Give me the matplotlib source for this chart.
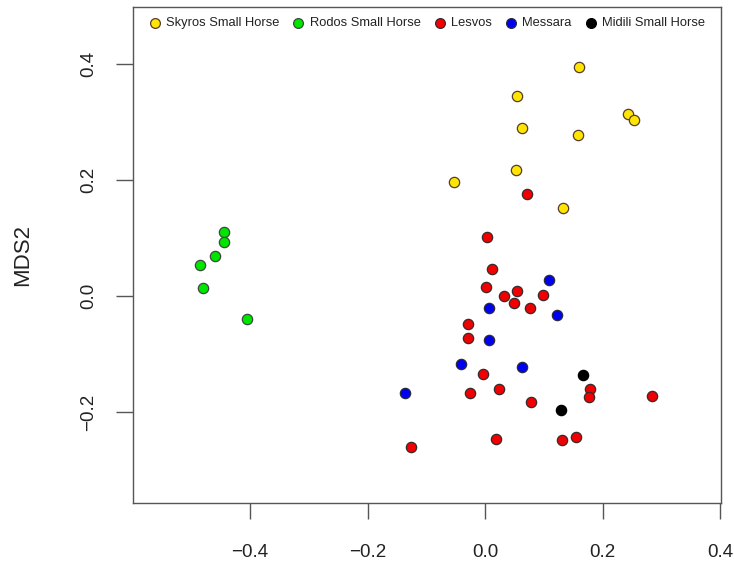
import matplotlib
matplotlib.use('Agg')
import matplotlib.pyplot as plt

plt.rcParams['font.family'] = ['Liberation Sans', 'DejaVu Sans']

groups = ['Skyros Small Horse', 'Rodos Small Horse', 'Lesvos', 'Messara', 'Midili Small Horse']
fills = ['#FFE600', '#00E600', '#F00000', '#0000F0', '#000000']
edges = ['#5a3a2a', '#3a4a3a', '#3a2a2a', '#2a2a3a', '#000000']

skyros_x = [0.160, 0.054, 0.063, 0.242, 0.253, 0.157, 0.053, -0.053, 0.132]
skyros_y = [0.394, 0.345, 0.289, 0.313, 0.303, 0.278, 0.217, 0.197, 0.151]

rodos_x = [-0.444, -0.444, -0.460, -0.485, -0.480, -0.405]
rodos_y = [0.110, 0.093, 0.069, 0.054, 0.014, -0.039]

lesvos_x = [0.071, 0.003, 0.011, 0.001, 0.032, 0.054, 0.049, 0.099, 0.077, -0.029,
            -0.030, -0.004, -0.026, 0.023, 0.078, 0.179, 0.177, 0.283, -0.127, 0.019,
            0.131, 0.155]
lesvos_y = [0.175, 0.101, 0.047, 0.015, 0.000, 0.008, -0.012, 0.001, -0.021, -0.048,
            -0.072, -0.134, -0.167, -0.160, -0.183, -0.161, -0.175, -0.172, -0.260, -0.246,
            -0.249, -0.244]

messara_x = [0.108, 0.007, 0.122, 0.006, -0.041, 0.063, -0.137]
messara_y = [0.027, -0.020, -0.033, -0.076, -0.117, -0.123, -0.168]

midili_x = [0.167, 0.129]
midili_y = [-0.136, -0.197]

xs = [skyros_x, rodos_x, lesvos_x, messara_x, midili_x]
ys = [skyros_y, rodos_y, lesvos_y, messara_y, midili_y]

fig = plt.figure(figsize=(7.34, 5.64), dpi=100)
ax = fig.add_axes([133 / 734, 1 - 503 / 564, (721 - 133) / 734, (503 - 7) / 564])

for name, x, y, fc, ec in zip(groups, xs, ys, fills, edges):
    ax.scatter(x, y, s=55, c=fc, edgecolors=ec, linewidths=0.9, label=name, zorder=3)

ax.set_xlim(-0.599, 0.401)
ax.set_ylim(-0.357, 0.498)
ax.set_xticks([-0.4, -0.2, 0.0, 0.2, 0.4])
ax.set_xticklabels(['\u22120.4', '\u22120.2', '0.0', '0.2', '0.4'])
ax.set_yticks([-0.2, 0.0, 0.2, 0.4])
ax.set_yticklabels(['\u22120.2', '0.0', '0.2', '0.4'], rotation=90, va='center')

for s in ax.spines.values():
    s.set_color('#555555')
    s.set_linewidth(1.0)
ax.tick_params(axis='x', length=11.5, width=1.0, color='#555555', labelsize=13.5,
               pad=18, labelcolor='#222222')
ax.tick_params(axis='y', length=12, width=1.0, color='#555555', labelsize=13.5,
               pad=14, labelcolor='#222222')

ax.set_ylabel('MDS2', fontsize=16, labelpad=34, color='#222222')

ax.legend(loc='upper center', ncol=5, frameon=False, fontsize=9.3, markerscale=0.95,
          handlelength=0.9, handletextpad=0.45, columnspacing=1.0,
          borderaxespad=0.4, labelcolor='#222222')

fig.savefig('out.png', dpi=100)
